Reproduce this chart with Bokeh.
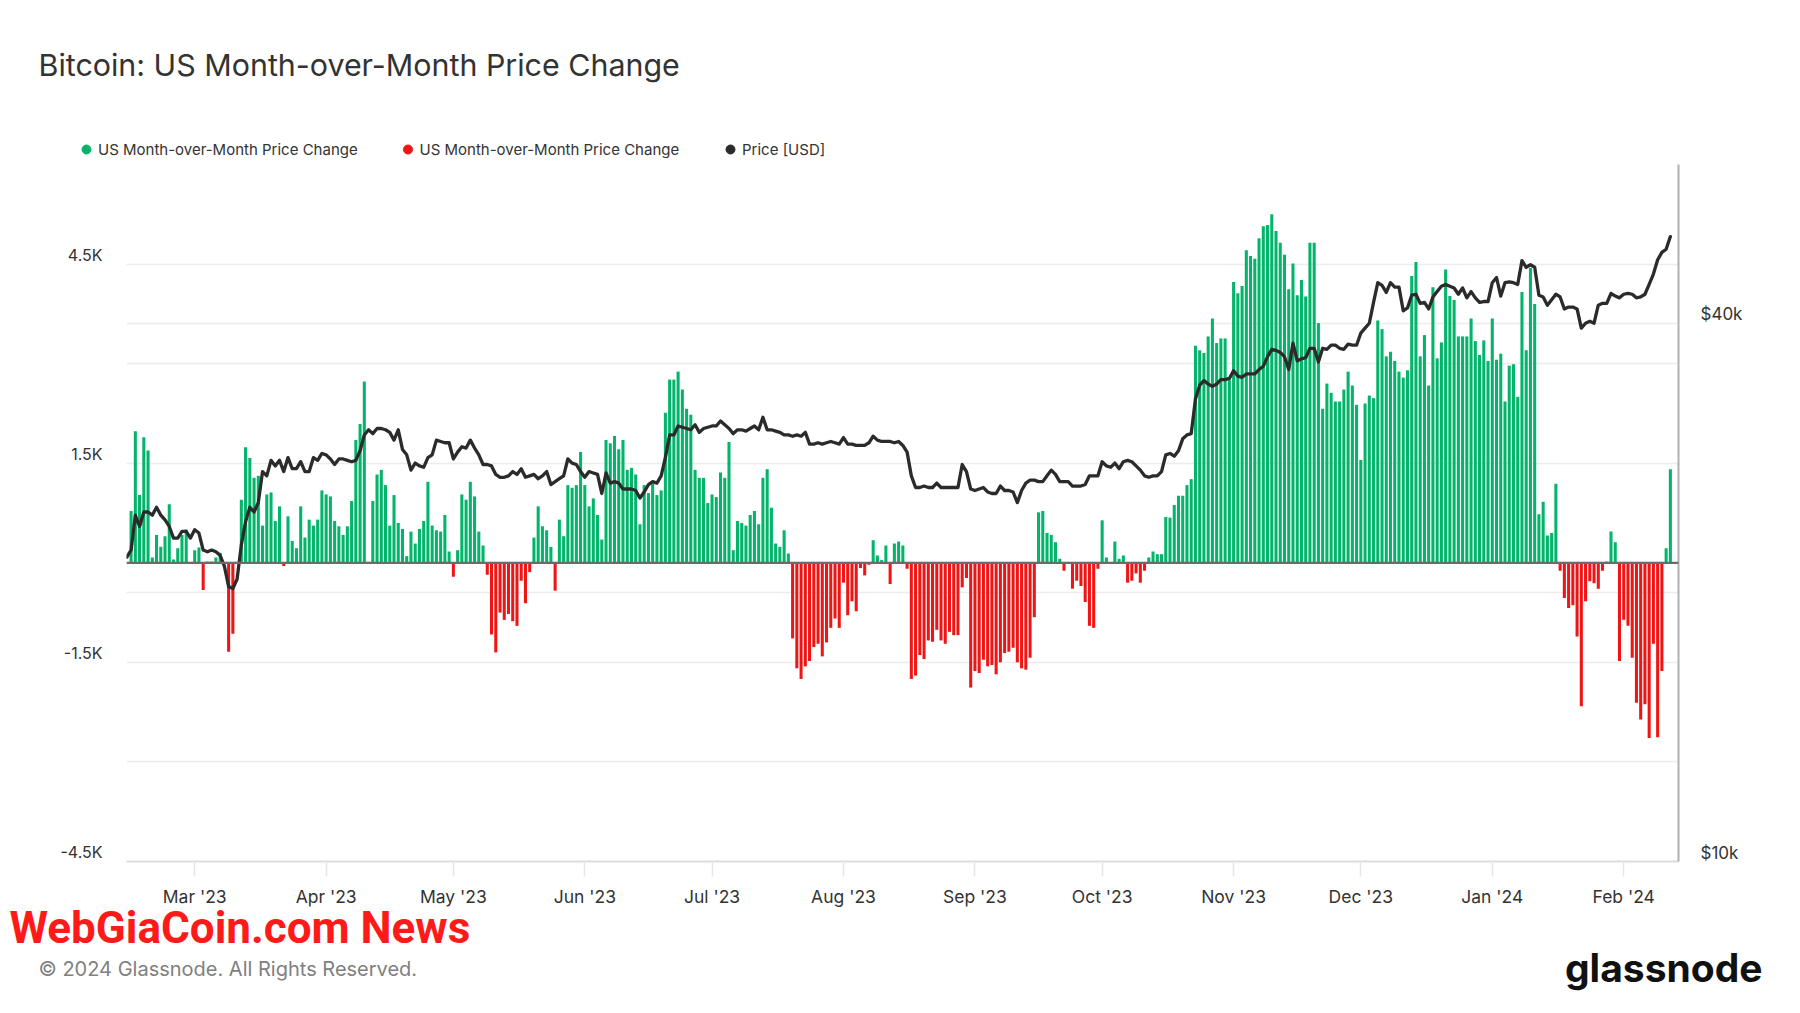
import numpy as np
import pandas as pd
from bokeh.plotting import figure
from bokeh.layouts import column
from bokeh.models import (ColumnDataSource, Range1d, LogScale, LogAxis, FixedTicker,
                          Span, Grid, DatetimeTickFormatter)
from bokeh.core.properties import value
from bokeh.embed import file_html
from bokeh.resources import INLINE

# ---------------- data ----------------
start_date = "2023-02-13"

# US month-over-month price change (USD), one value per day
mom_change_usd = [
    0, 780, 1980, 1020, 1890, 1690, 80, 420, 240, 400,
    880, 50, 220, 420, 500, 0, 190, 230, -410, 20,
    20, 80, 150, -20, -1340, -1070, 0, 950, 1740, 1580,
    1280, 1310, 560, 1030, 1060, 630, 850, -50, 700, 330,
    220, 850, 380, 650, 560, 650, 1090, 1030, 1000, 630,
    550, 420, 550, 930, 1850, 2090, 2730, 0, 930, 1330,
    1400, 1170, 560, 1020, 600, 510, 100, 470, 290, 510,
    630, 1220, 560, 490, 470, 720, 170, -210, 190, 1030,
    950, 1220, 1000, 470, 260, -180, -1080, -1350, -750, -860,
    -770, -880, -950, -270, -610, -140, 380, 850, 550, 490,
    240, -420, 650, 400, 1170, 1130, 1170, 1670, 1170, 850,
    970, 720, 350, 1850, 1800, 1910, 1710, 1850, 1400, 1430,
    1330, 580, 1170, 1050, 1190, 1020, 1090, 2260, 2760, 2760,
    2880, 2610, 2320, 2230, 1400, 1280, 1280, 900, 1030, 990,
    1360, 1280, 1820, 190, 630, 600, 560, 720, 780, 580,
    1280, 1410, 830, 290, 240, 490, 140, -1140, -1590, -1750,
    -1560, -1480, -1270, -1220, -1410, -1200, -980, -840, -980, -300,
    -790, -580, -730, -80, -190, -30, 340, 110, 40, 260,
    -320, 290, 320, 260, -90, -1750, -1700, -1390, -1450, -1170,
    -1190, -1010, -1170, -1220, -1040, -1090, -1090, -370, -230, -1880,
    -1630, -1660, -1460, -1560, -1540, -1680, -1500, -1360, -1340, -1280,
    -1500, -1590, -1610, -1430, -820, 760, 780, 450, 420, 310,
    60, -120, 0, -390, -270, -350, -590, -950, -980, -90,
    640, 80, 0, 320, 60, 110, -300, -270, -160, -300,
    -120, 80, 170, 130, 130, 690, 680, 870, 1010, 1010,
    1170, 1260, 3270, 3200, 3160, 3410, 3680, 3310, 3380, 3380,
    2760, 4230, 4060, 4170, 4710, 4620, 4580, 4890, 5070, 5090,
    5250, 5000, 4820, 4640, 4120, 4510, 4030, 4260, 4010, 4820,
    4820, 3610, 2320, 2700, 2560, 2430, 2430, 2610, 2880, 2670,
    2380, 1550, 2400, 2520, 2480, 3650, 3520, 3110, 3180, 3040,
    2880, 2790, 2900, 4320, 4530, 3110, 3430, 2670, 4150, 3080,
    3320, 4420, 4020, 3960, 3410, 3410, 3410, 3680, 3340, 3130,
    3350, 3040, 3680, 3060, 3150, 2430, 2970, 2990, 2500, 4080,
    3200, 4440, 3900, 730, 920, 410, 450, 1190, -120, -530,
    -680, -640, -1110, -2160, -580, -280, -310, -390, -120, 20,
    470, 310, -1480, -860, -950, -1430, -2110, -2360, -2130, -2640,
    -1220, -2630, -1630, 220, 1410,
]

# Price [USD] in thousands, one value per day
price_k_usd = [
    21.9, 22.3, 24.4, 23.7, 24.6, 24.6, 24.4, 24.9, 24.4, 24.1,
    23.7, 23.0, 23.0, 23.4, 23.4, 23.0, 23.5, 23.3, 22.3, 22.2,
    22.3, 22.2, 22.0, 21.4, 20.3, 20.2, 20.7, 22.6, 24.0, 24.9,
    24.6, 25.2, 27.3, 27.0, 28.1, 27.7, 28.1, 27.3, 28.3, 27.5,
    27.5, 28.0, 27.3, 27.3, 28.3, 28.1, 28.6, 28.5, 28.2, 27.8,
    28.2, 28.2, 28.1, 28.0, 28.1, 28.8, 30.0, 30.4, 30.1, 30.5,
    30.5, 30.4, 30.2, 29.6, 30.4, 28.9, 28.5, 27.4, 27.9, 27.7,
    27.6, 28.3, 28.5, 29.6, 29.5, 29.4, 29.4, 28.2, 28.7, 29.1,
    29.0, 29.6, 29.0, 28.5, 27.8, 27.8, 27.7, 27.1, 26.9, 26.9,
    27.0, 27.3, 27.1, 27.5, 26.9, 27.0, 27.1, 26.8, 27.0, 27.3,
    26.4, 26.6, 26.8, 27.0, 28.2, 27.9, 27.8, 27.3, 26.9, 27.3,
    27.2, 27.1, 25.8, 27.2, 26.5, 26.6, 26.5, 26.1, 26.1, 26.1,
    26.0, 25.5, 25.9, 26.4, 26.6, 26.5, 27.0, 28.3, 30.0, 30.0,
    30.7, 30.6, 30.5, 30.4, 30.8, 30.2, 30.5, 30.6, 30.7, 30.7,
    31.1, 30.8, 30.5, 30.1, 30.4, 30.4, 30.3, 30.5, 30.7, 30.4,
    31.4, 30.4, 30.4, 30.3, 30.2, 30.0, 30.0, 29.9, 30.0, 29.9,
    30.2, 29.3, 29.3, 29.4, 29.3, 29.4, 29.5, 29.4, 29.3, 29.8,
    29.3, 29.3, 29.2, 29.2, 29.2, 29.4, 29.9, 29.6, 29.5, 29.5,
    29.5, 29.4, 29.5, 29.2, 28.7, 27.0, 26.2, 26.2, 26.3, 26.2,
    26.2, 26.5, 26.2, 26.2, 26.2, 26.2, 26.2, 27.8, 27.3, 26.1,
    26.0, 26.1, 26.2, 25.9, 25.8, 25.8, 26.3, 26.0, 26.0, 25.9,
    25.2, 26.0, 26.5, 26.7, 26.7, 26.6, 26.6, 27.0, 27.4, 27.1,
    26.6, 26.6, 26.6, 26.3, 26.3, 26.3, 26.4, 27.0, 27.0, 27.0,
    28.0, 27.7, 27.6, 27.9, 27.5, 28.0, 28.1, 28.0, 27.7, 27.4,
    27.0, 26.9, 27.0, 27.0, 27.3, 28.5, 28.6, 28.4, 28.8, 29.7,
    30.0, 30.1, 32.9, 34.1, 34.5, 34.2, 34.0, 34.2, 34.6, 34.6,
    34.7, 35.4, 34.9, 34.8, 35.1, 35.1, 35.1, 35.5, 35.8, 36.7,
    37.4, 37.3, 37.1, 36.7, 35.5, 38.0, 36.3, 36.5, 36.6, 37.5,
    37.5, 36.2, 37.5, 37.4, 37.8, 37.8, 37.5, 37.4, 37.9, 37.8,
    37.8, 39.0, 39.5, 40.0, 42.2, 44.4, 44.1, 43.3, 44.4, 43.9,
    43.9, 41.3, 41.6, 43.0, 43.1, 42.1, 42.2, 41.5, 42.8, 43.4,
    44.0, 44.2, 44.0, 43.8, 43.1, 43.8, 42.7, 43.4, 42.7, 42.2,
    42.3, 42.3, 44.4, 45.0, 42.9, 44.4, 44.5, 44.4, 44.2, 47.0,
    46.2, 46.5, 46.2, 43.0, 42.8, 41.9, 42.5, 43.1, 42.8, 41.5,
    41.7, 41.7, 41.5, 39.5, 40.0, 40.2, 40.0, 41.9, 42.1, 42.1,
    43.2, 42.9, 42.7, 43.1, 43.2, 43.1, 42.7, 42.8, 43.1, 44.2,
    45.4, 47.1, 48.0, 48.4, 50.0,
]

month_tick_dates = ["2023-03-01", "2023-04-01", "2023-05-01", "2023-06-01",
                    "2023-07-01", "2023-08-01", "2023-09-01", "2023-10-01",
                    "2023-11-01", "2023-12-01", "2024-01-01", "2024-02-01"]
left_tick_values = [-4500, -1500, 1500, 4500]
left_tick_labels = ["-4.5K", "-1.5K", "1.5K", "4.5K"]
left_grid_values = [-4500, -3000, -1500, 0, 1500, 3000, 4500, 6000]
right_tick_values = [10000, 40000]
right_tick_labels = ["$10k", "$40k"]
right_grid_values = [20000, 40000]
series_names = ["US Month-over-Month Price Change", "US Month-over-Month Price Change", "Price [USD]"]
title_text = "Bitcoin: US Month-over-Month Price Change"
copyright_text = "© 2024 Glassnode. All Rights Reserved."
brand_text = "glassnode"
watermark_text = "WebGiaCoin.com News"

# ---------------- styling / layout ----------------
GREEN = "#03b46b"
RED = "#ef1515"
LINE = "#2b2b2b"
TXT = "#333333"
FONT = "Inter"

W = 1798
HH = 158              # header height
FL, FW = 126, 1552    # frame left / width
FR = W - FL - FW
MT, FH, MB = 6, 697, 52
HM = MT + FH + MB     # main figure height
FOOT_TOP = 895        # footer canvas overlaps the bottom of the main canvas
OVERLAP = HH + HM - FOOT_TOP
HF = 1010 - FOOT_TOP  # footer height

Y0, Y1 = -4500, 6000
P0, P1 = 10000, 60200
LABEL_LIFT_PX = 9


def no_frame_align(f):
    try:
        f.frame_align = False
    except Exception:
        pass


def blank(height, transparent=False):
    f = figure(width=W, height=height, x_range=Range1d(0, W), y_range=Range1d(height, 0),
               output_backend="svg", toolbar_location=None, x_axis_type=None, y_axis_type=None,
               min_border=0)
    f.outline_line_color = None
    f.grid.visible = False
    if transparent:
        f.background_fill_alpha = 0
        f.border_fill_alpha = 0
    else:
        f.background_fill_color = "white"
        f.border_fill_color = "white"
    no_frame_align(f)
    return f


# ---------------- header: title + legend ----------------
head = blank(HH)
head.text(x=[38], y=[64], text=[title_text], text_font=value(FONT), text_font_size="30.4px",
          text_color=TXT, text_baseline="middle", text_align="left")
legend_colors = [GREEN, RED, LINE]
dot_x = [86, 407.5, 730]
head.scatter(x=dot_x, y=[149] * 3, marker="circle", size=9, color=legend_colors)
head.text(x=[x + 11.5 for x in dot_x], y=[149] * 3, text=series_names, text_font=value(FONT),
          text_font_size="15px", text_color=TXT, text_baseline="middle", text_align="left")

# ---------------- main chart ----------------
dates = pd.date_range(start_date, periods=len(mom_change_usd), freq="D")
mom = np.array(mom_change_usd, dtype=float)
price = np.array(price_k_usd, dtype=float) * 1000.0
pos = mom >= 0

src_g = ColumnDataSource(dict(x=dates[pos], top=mom[pos]))
src_r = ColumnDataSource(dict(x=dates[~pos], top=mom[~pos]))
src_p = ColumnDataSource(dict(x=dates, y=price))

x0 = pd.Timestamp(start_date) - pd.Timedelta(hours=2)
x1 = x0 + pd.Timedelta(days=366)

p = figure(width=W, height=HM, x_axis_type="datetime", output_backend="svg",
           toolbar_location=None, x_range=Range1d(x0, x1), y_range=Range1d(Y0, Y1),
           min_border_left=FL, min_border_right=FR, min_border_top=MT, min_border_bottom=MB)
no_frame_align(p)
p.extra_y_ranges = {"price": Range1d(P0, P1)}
p.extra_y_scales = {"price": LogScale()}
p.outline_line_color = None
p.background_fill_color = "white"
p.border_fill_color = "white"

p.xgrid.visible = False
p.ygrid.ticker = FixedTicker(ticks=left_grid_values)
p.ygrid.grid_line_color = "#ececec"
p.ygrid.grid_line_width = 1.5
p.add_layout(Grid(dimension=1, ticker=FixedTicker(ticks=right_grid_values), y_range_name="price",
                  grid_line_color="#ececec", grid_line_width=1.5))

bar_w = 0.72 * 86400000
p.vbar(x="x", top="top", bottom=0, width=bar_w, source=src_g, fill_color=GREEN, line_color=None)
p.vbar(x="x", top="top", bottom=0, width=bar_w, source=src_r, fill_color=RED, line_color=None)

p.add_layout(Span(location=0, dimension="width", line_color="#6b6b6b", line_width=2.2))

p.line("x", "y", source=src_p, y_range_name="price", line_color=LINE, line_width=3.3,
       line_join="round", line_cap="round")

# left axis (labels sit slightly above their grid lines)
lift_left = round(LABEL_LIFT_PX * (Y1 - Y0) / FH)
lt = [v + lift_left for v in left_tick_values]
ya = p.yaxis[0]
ya.ticker = FixedTicker(ticks=lt)
ya.major_label_overrides = {t: s for t, s in zip(lt, left_tick_labels)}
ya.axis_line_color = None
ya.major_tick_line_color = None
ya.minor_tick_line_color = None
ya.major_tick_out = 0
ya.major_tick_in = 0
ya.major_label_standoff = 24
ya.major_label_text_font = FONT
ya.major_label_text_font_size = "16px"
ya.major_label_text_color = TXT

# right log axis
lift_right = 10 ** (LABEL_LIFT_PX / FH * np.log10(P1 / P0))
rt = [int(round(v * lift_right)) for v in right_tick_values]
ra = LogAxis(y_range_name="price", ticker=FixedTicker(ticks=rt),
             major_label_overrides={t: s for t, s in zip(rt, right_tick_labels)},
             axis_line_color="#b0b0b0", axis_line_width=2,
             major_tick_line_color=None, minor_tick_line_color=None,
             major_tick_out=0, major_tick_in=0, major_label_standoff=22,
             major_label_text_font=FONT, major_label_text_font_size="17px",
             major_label_text_color=TXT)
p.add_layout(ra, "right")

# bottom axis
xa = p.xaxis[0]
xa.ticker = FixedTicker(ticks=[pd.Timestamp(d).value // 10**6 for d in month_tick_dates])
fmt = "%b '%y"
xa.formatter = DatetimeTickFormatter(months=fmt, days=fmt, years=fmt, hours=fmt,
                                     minutes=fmt, seconds=fmt, milliseconds=fmt,
                                     microseconds=fmt, minsec=fmt, hourmin=fmt)
xa.axis_line_color = "#dddddd"
xa.axis_line_width = 2
xa.major_tick_line_color = "#e6e6e6"
xa.major_tick_line_width = 1.5
xa.major_tick_out = 15
xa.major_tick_in = 0
xa.minor_tick_line_color = None
xa.major_label_standoff = 9
xa.major_label_text_font = FONT
xa.major_label_text_font_size = "17.5px"
xa.major_label_text_color = TXT

# ---------------- footer (transparent, pulled up over the main canvas) ----------------
foot = blank(HF, transparent=True)
foot.margin = (-OVERLAP, 0, 0, 0)
foot.text(x=[9], y=[927 - FOOT_TOP], text=[watermark_text], text_font=value("Roboto"),
          text_font_size="44px", text_font_style="bold", text_color="#ff1a1a",
          text_baseline="middle", text_align="left")
foot.text(x=[38], y=[968 - FOOT_TOP], text=[copyright_text], text_font=value(FONT),
          text_font_size="20px", text_color="#808080", text_baseline="middle", text_align="left")
foot.text(x=[1762], y=[967 - FOOT_TOP], text=[brand_text], text_font=value(FONT),
          text_font_size="39px", text_font_style="bold", text_color="#111111",
          text_baseline="middle", text_align="right")

layout = column(head, p, foot, spacing=0)
open("out.html", "w").write(file_html(layout, INLINE))
